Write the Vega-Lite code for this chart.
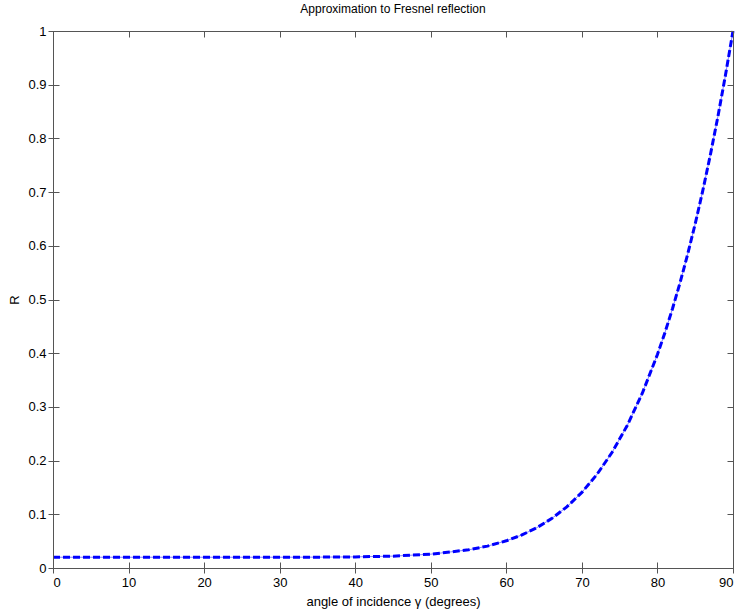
{
  "$schema": "https://vega.github.io/schema/vega-lite/v6.json",
  "autosize": "none",
  "width": 680,
  "height": 537,
  "padding": {"left": 53, "top": 31, "right": 5, "bottom": 43},
  "background": "white",
  "config": {
    "font": "Liberation Sans",
    "view": {"stroke": "#555", "strokeWidth": 1},
    "axis": {"domainColor": "#555", "labelColor": "#000", "labelFont": "Liberation Sans", "labelFontSize": 13, "titleFont": "Liberation Sans", "titleFontSize": 13, "titleFontWeight": "normal", "titleColor": "#000"}
  },
  "title": {"text": "Approximation to Fresnel reflection", "fontSize": 12, "fontWeight": "normal", "font": "Liberation Sans", "color": "#000", "offset": 9},
  "data": {"values": [
    {"angle": 0, "R": 0.02}, {"angle": 5, "R": 0.02}, {"angle": 10, "R": 0.02}, {"angle": 15, "R": 0.02},
    {"angle": 20, "R": 0.02}, {"angle": 25, "R": 0.02001}, {"angle": 30, "R": 0.02004}, {"angle": 35, "R": 0.02019},
    {"angle": 40, "R": 0.02069}, {"angle": 45, "R": 0.02211}, {"angle": 50, "R": 0.0257}, {"angle": 55, "R": 0.03382},
    {"angle": 57.5, "R": 0.04078}, {"angle": 60, "R": 0.05063}, {"angle": 62, "R": 0.06119}, {"angle": 64, "R": 0.07476},
    {"angle": 66, "R": 0.09202}, {"angle": 68, "R": 0.11375}, {"angle": 70, "R": 0.14086}, {"angle": 72, "R": 0.17437},
    {"angle": 74, "R": 0.21543}, {"angle": 76, "R": 0.26535}, {"angle": 78, "R": 0.32556}, {"angle": 80, "R": 0.3976},
    {"angle": 81, "R": 0.43864}, {"angle": 82, "R": 0.48326}, {"angle": 83, "R": 0.53171}, {"angle": 84, "R": 0.58426},
    {"angle": 85, "R": 0.64116}, {"angle": 86, "R": 0.70266}, {"angle": 87, "R": 0.76901}, {"angle": 88, "R": 0.84052},
    {"angle": 89, "R": 0.91743}, {"angle": 90, "R": 1.0}
  ]},
  "layer": [
    {
      "mark": {"type": "line", "color": "#0000ff", "strokeWidth": 1, "opacity": 0.5},
      "encoding": {
        "x": {"field": "angle", "type": "quantitative", "scale": {"domain": [0, 90], "nice": false}, "axis": {"zindex": 1, "title": "angle of incidence γ (degrees)", "values": [0,10,20,30,40,50,60,70,80,90], "ticks": true, "tickSize": 5, "tickColor": "#555", "tickWidth": 1, "grid": true, "gridColor": "#555", "gridOpacity": 1, "gridWidth": 1, "gridDash": [6, 525, 6, 200], "labelPadding": 3, "titlePadding": 6}},
        "y": {"field": "R", "type": "quantitative", "scale": {"domain": [0, 1], "nice": false}, "axis": {"zindex": 1, "title": "R", "values": [0,0.1,0.2,0.3,0.4,0.5,0.6,0.7,0.8,0.9,1], "format": ".1~f", "ticks": true, "tickSize": 5, "tickColor": "#555", "tickWidth": 1, "grid": true, "gridColor": "#555", "gridOpacity": 1, "gridWidth": 1, "gridDash": [6, 668, 6, 200], "labelPadding": 2, "titlePadding": 6}}
      }
    },
    {
      "mark": {"type": "line", "color": "#0000ff", "strokeWidth": 3, "strokeDash": [7, 3]},
      "encoding": {
        "x": {"field": "angle", "type": "quantitative"},
        "y": {"field": "R", "type": "quantitative"}
      }
    }
  ]
}
